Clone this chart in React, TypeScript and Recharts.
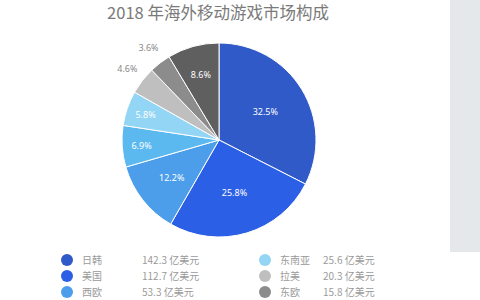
import { PieChart, Pie, Cell, Legend } from 'recharts';

const regions = ['日韩', '美国', '西欧', '中东', '东南亚', '拉美', '东欧', '其他'];
const shares = [32.5, 25.8, 12.2, 6.9, 5.8, 4.6, 3.6, 8.6];
const revenue = [142.3, 112.7, 53.3, 30.2, 25.6, 20.3, 15.8, 37.6];
const colors = ['#2f5ac8', '#2b60e6', '#4c9eea', '#5bb9ef', '#93d5f4', '#bfbfbf', '#8c8c8c', '#5f5f5f'];

const data = regions.map((name, i) => ({ name, share: shares[i], revenue: revenue[i] }));

const RAD = Math.PI / 180;
const ROW_H = 16;
const LEGEND_H = 48; // only the rows that fit above the bottom edge are drawn

// small slices get their label further out, tiny ones outside the pie
const renderLabel = (props: any) => {
  const { cx, cy, midAngle, outerRadius, payload } = props;
  const pct = payload.share;
  let r = outerRadius * 0.8;
  if (pct >= 20) r = outerRadius * 0.56;
  else if (pct >= 10) r = outerRadius * 0.62;
  else if (pct >= 8) r = outerRadius * 0.7;
  const outside = pct < 5;
  if (outside) r = outerRadius + 19;
  const x = cx + r * Math.cos(-midAngle * RAD);
  const y = cy + r * Math.sin(-midAngle * RAD);
  return (
    <text x={x} y={y} fill={outside ? '#8a8a8a' : '#ffffff'} fontSize={9} textAnchor="middle" dominantBaseline="central" fontFamily="Noto Sans">
      {pct.toFixed(1)}%
    </text>
  );
};

const renderLegend = () => {
  const half = Math.ceil(data.length / 2);
  const fit = Math.floor(LEGEND_H / ROW_H);
  const cols = [data.slice(0, half).slice(0, fit), data.slice(half).slice(0, fit)];
  return (
    <div style={{ position: 'relative', width: 480, height: LEGEND_H }}>
      {cols.map((col, c) =>
        col.map((d, r) => {
          const idx = c * half + r;
          const left = c === 0 ? 61 : 259;
          return (
            <div key={d.name} style={{ position: 'absolute', left, top: r * ROW_H, height: ROW_H, display: 'flex', alignItems: 'center', fontSize: 10, color: '#9a9a9a', fontFamily: '"Noto Sans CJK SC", sans-serif' }}>
              <span style={{ width: 12, height: 12, borderRadius: 6, background: colors[idx], display: 'inline-block' }} />
              <span style={{ position: 'absolute', left: 21, whiteSpace: 'nowrap', lineHeight: '16px' }}>{d.name}</span>
              <span style={{ position: 'absolute', left: c === 0 ? 81 : 64, whiteSpace: 'nowrap', lineHeight: '16px' }}>{d.revenue.toFixed(1)} 亿美元</span>
            </div>
          );
        })
      )}
    </div>
  );
};

export default function App() {
  return (
    <div style={{ position: 'absolute', left: 0, top: 0, width: 480, height: 300, background: '#fff', overflow: 'hidden' }}>
      <div style={{ position: 'absolute', left: 450, top: 0, width: 30, height: 252, background: '#e4e8eb' }} />
      <div style={{ position: 'absolute', left: 0, top: 1, width: 436, textAlign: 'center', fontSize: 16.5, color: '#7a7a7a', fontFamily: '"Noto Sans CJK SC", sans-serif', lineHeight: '22px' }}>
        2018 年海外移动游戏市场构成
      </div>
      <PieChart width={440} height={300} margin={{ top: 0, right: 0, bottom: 0, left: 0 }} style={{ position: 'absolute', left: 0, top: 0 }}>
        <Pie
          data={data}
          dataKey="share"
          nameKey="name"
          cx={219}
          cy={140}
          outerRadius={97}
          startAngle={90}
          endAngle={-270}
          stroke="#ffffff"
          strokeWidth={1}
          label={renderLabel}
          labelLine={false}
          isAnimationActive={false}
        >
          {data.map((d, i) => (
            <Cell key={d.name} fill={colors[i]} />
          ))}
        </Pie>
        <Legend content={renderLegend} wrapperStyle={{ left: 0, top: 252, width: 480 }} />
      </PieChart>
    </div>
  );
}
